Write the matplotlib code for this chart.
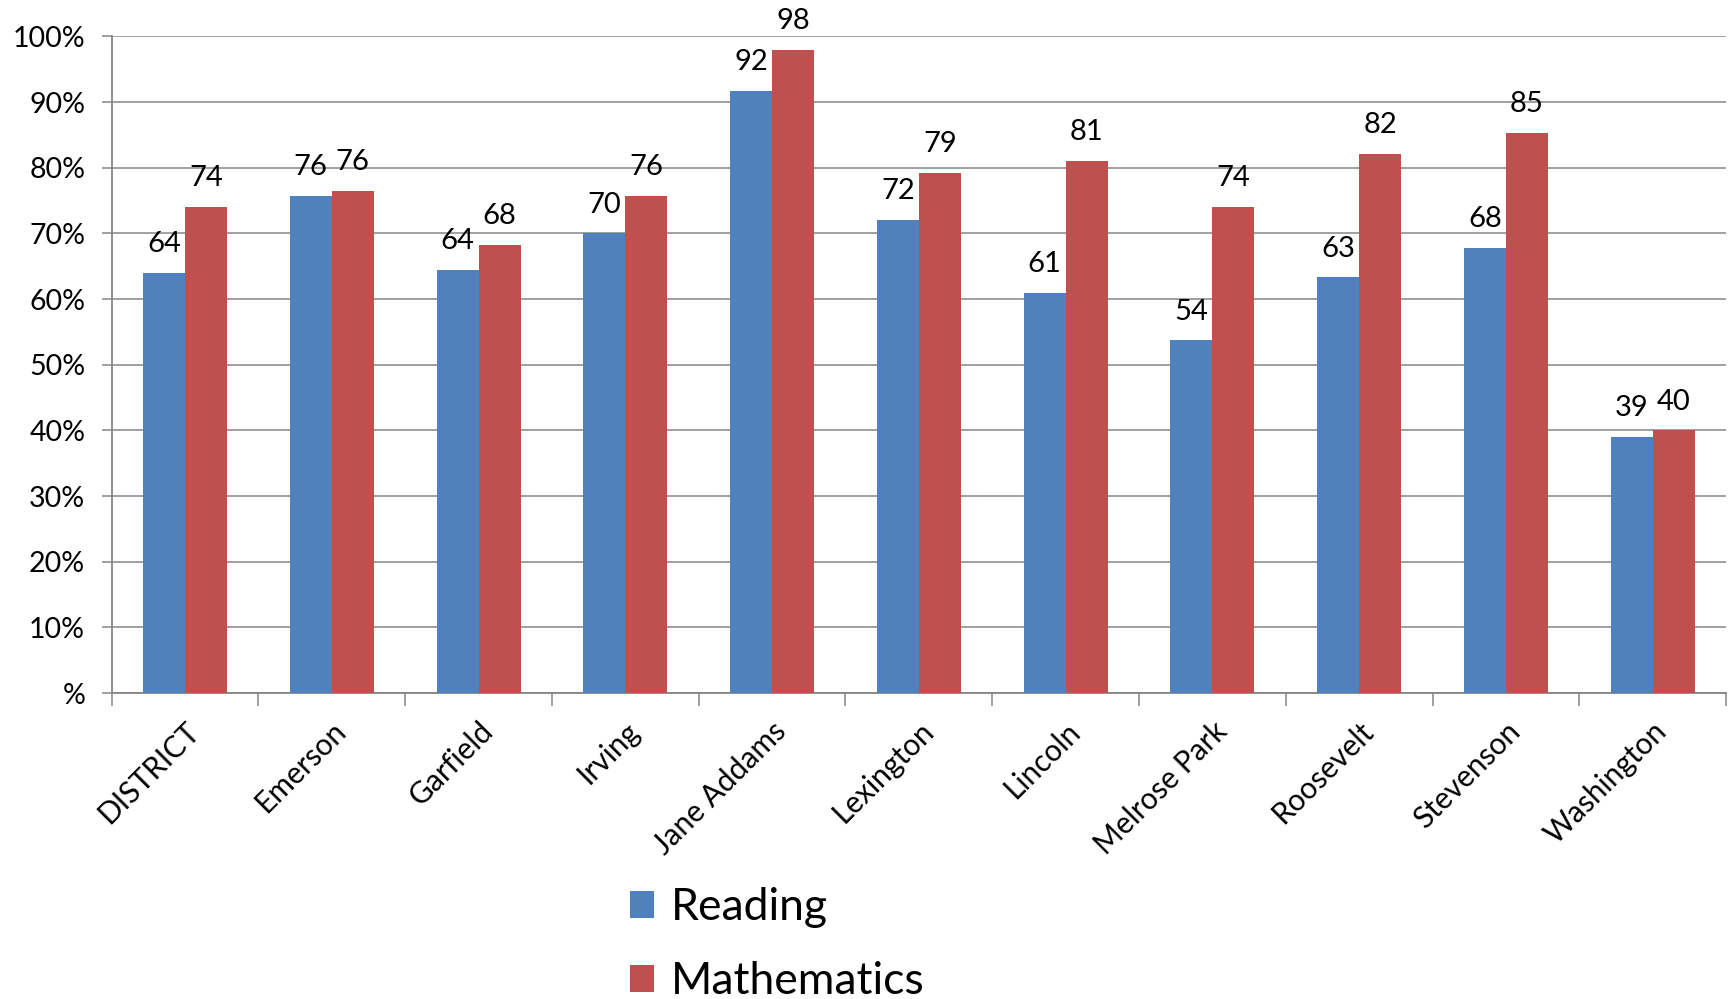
import matplotlib
matplotlib.use("Agg")
import matplotlib.pyplot as plt
from matplotlib.transforms import ScaledTranslation
import numpy as np

plt.rcParams['font.family'] = ['Lato', 'DejaVu Sans']

schools = ["DISTRICT", "Emerson", "Garfield", "Irving", "Jane Addams", "Lexington",
           "Lincoln", "Melrose Park", "Roosevelt", "Stevenson", "Washington"]
reading = [64.0, 75.7, 64.4, 70.0, 91.7, 72.0, 61.0, 53.7, 63.3, 67.8, 39.0]
mathematics = [74.0, 76.5, 68.2, 75.7, 97.9, 79.2, 81.1, 74.0, 82.1, 85.3, 40.0]
yticks = [0, 10, 20, 30, 40, 50, 60, 70, 80, 90, 100]
ytick_labels = ["%", "10%", "20%", "30%", "40%", "50%", "60%", "70%", "80%", "90%", "100%"]

BLUE = "#4F81BD"
RED = "#C0504D"
GRAY = "#868686"

fig = plt.figure(figsize=(17.33, 9.99), dpi=100)
ax = fig.add_axes([0.0644, 0.3063, 0.996 - 0.0644, 0.9635 - 0.3063])

x = np.arange(len(schools))
w = 0.286
b1 = ax.bar(x - w / 2, reading, width=w, color=BLUE, label="Reading", zorder=3)
b2 = ax.bar(x + w / 2, mathematics, width=w, color=RED, label="Mathematics", zorder=3)

for bars, vals in ((b1, reading), (b2, mathematics)):
    for rect, v in zip(bars, vals):
        ax.annotate(f"{round(v):d}", (rect.get_x() + rect.get_width() / 2, v),
                    xytext=(0, 15), textcoords="offset points",
                    ha="center", va="baseline", fontsize=21, color="black",
                    zorder=4, annotation_clip=False)

ax.set_xlim(-0.5, len(schools) - 0.5)
ax.set_ylim(0, 100)
ax.set_yticks(yticks)
ax.set_yticklabels(ytick_labels, fontsize=20.5)
ax.yaxis.grid(True, color=GRAY, linewidth=1.1, zorder=0)
ax.set_axisbelow(True)

ax.set_xticks(x)
ax.set_xticklabels(schools, fontsize=21.5, rotation=45, ha="right", va="top",
                   rotation_mode="anchor")
shift = ScaledTranslation(-0.10, 0, fig.dpi_scale_trans)
for lbl in ax.get_xticklabels():
    lbl.set_transform(lbl.get_transform() + shift)
ax.set_xticks(np.arange(-0.5, len(schools)), minor=True)
ax.tick_params(axis="x", which="major", length=0, pad=17)
ax.tick_params(axis="x", which="minor", length=9.5, width=1.1, color=GRAY)
ax.tick_params(axis="y", which="major", length=7, width=1.1, color=GRAY, pad=12)

for s in ("top", "right"):
    ax.spines[s].set_visible(False)
for s in ("left", "bottom"):
    ax.spines[s].set_color(GRAY)
    ax.spines[s].set_linewidth(1.3)

fig.legend(handles=[b1, b2], labels=["Reading", "Mathematics"],
           loc="center left", bbox_to_anchor=(0.3635, 0.0545),
           frameon=False, fontsize=32, handlelength=0.55, handleheight=0.55,
           handletextpad=0.36, labelspacing=0.75, borderpad=0, borderaxespad=0)

fig.savefig("out.png", dpi=100)
